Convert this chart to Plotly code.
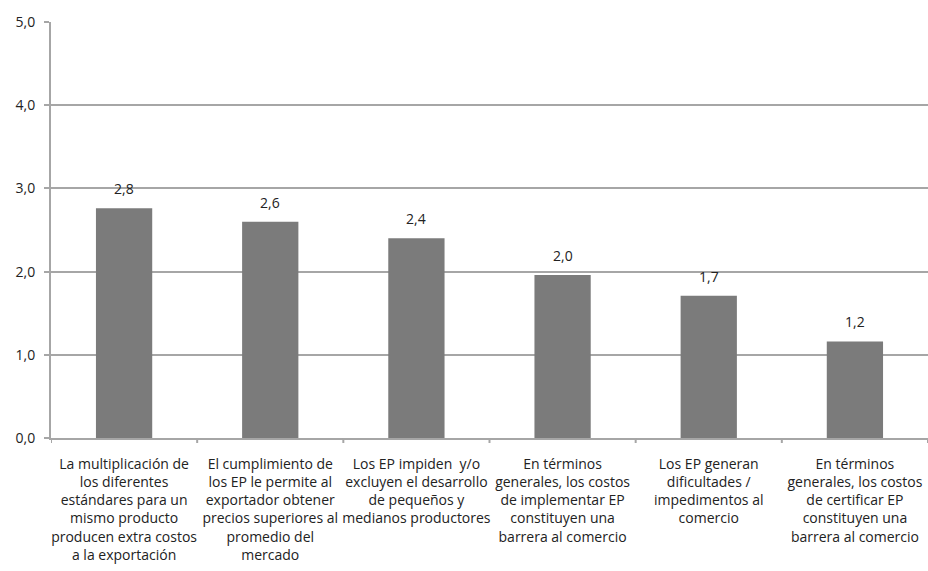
import plotly.graph_objects as go

# Survey statements (line breaks as laid out under each bar)
categories = [
    "La multiplicación de<br>los diferentes<br>estándares para un<br>mismo producto<br>producen extra costos<br>a la exportación",
    "El cumplimiento de<br>los EP le permite al<br>exportador obtener<br>precios superiores al<br>promedio del<br>mercado",
    "Los EP impiden  y/o<br>excluyen el desarrollo<br>de pequeños y<br>medianos productores",
    "En términos<br>generales, los costos<br>de implementar EP<br>constituyen una<br>barrera al comercio",
    "Los EP generan<br>dificultades /<br>impedimentos al<br>comercio",
    "En términos<br>generales, los costos<br>de certificar EP<br>constituyen una<br>barrera al comercio",
]
scores = [2.76, 2.6, 2.4, 1.96, 1.71, 1.16]
y_ticks = [0, 1, 2, 3, 4, 5]
y_tick_labels = ["0,0", "1,0", "2,0", "3,0", "4,0", "5,0"]

FONT = "'Open Sans', sans-serif"
TEXT = "#222222"
GRID = "#a6a6a6"

fig = go.Figure(
    go.Bar(
        x=list(range(len(categories))),
        y=scores,
        marker=dict(color="#7b7b7b", line=dict(width=0)),
        width=0.385,
        hoverinfo="skip",
    )
)

# Value labels above each bar
for i, v in enumerate(scores):
    fig.add_annotation(
        x=i, y=v, xref="x", yref="y",
        text=f"{v:.1f}".replace(".", ","),
        showarrow=False, yanchor="bottom", yshift=8,
        font=dict(family=FONT, size=14, color=TEXT),
    )

fig.update_layout(
    width=928,
    height=571,
    margin=dict(l=51, r=0, t=22, b=133),
    paper_bgcolor="white",
    plot_bgcolor="white",
    showlegend=False,
    font=dict(family=FONT, size=14, color=TEXT),
)

fig.update_xaxes(
    range=[-0.5, 5.5],
    tickmode="array",
    tickvals=list(range(len(categories))),
    ticktext=categories,
    tickangle=0,
    showgrid=False,
    showline=True,
    linecolor=GRID,
    linewidth=2,
    ticks="",
    ticklabelstandoff=12,
    tickfont=dict(family=FONT, size=14, color=TEXT),
)

# Category separators below the baseline
for k in range(len(categories) + 1):
    fig.add_shape(
        type="line", xref="x", yref="paper",
        x0=k - 0.5, x1=k - 0.5, y0=0, y1=-0.012,
        line=dict(color=GRID, width=2),
    )

fig.update_yaxes(
    range=[0, 5],
    tickmode="array",
    tickvals=y_ticks,
    ticktext=y_tick_labels,
    showgrid=True,
    gridcolor=GRID,
    gridwidth=2,
    showline=True,
    linecolor=GRID,
    linewidth=2,
    ticks="outside",
    ticklen=5,
    tickwidth=2,
    tickcolor=GRID,
    zeroline=False,
    ticklabelstandoff=6,
    tickfont=dict(family=FONT, size=14, color=TEXT),
)

fig.write_html("out.html")
